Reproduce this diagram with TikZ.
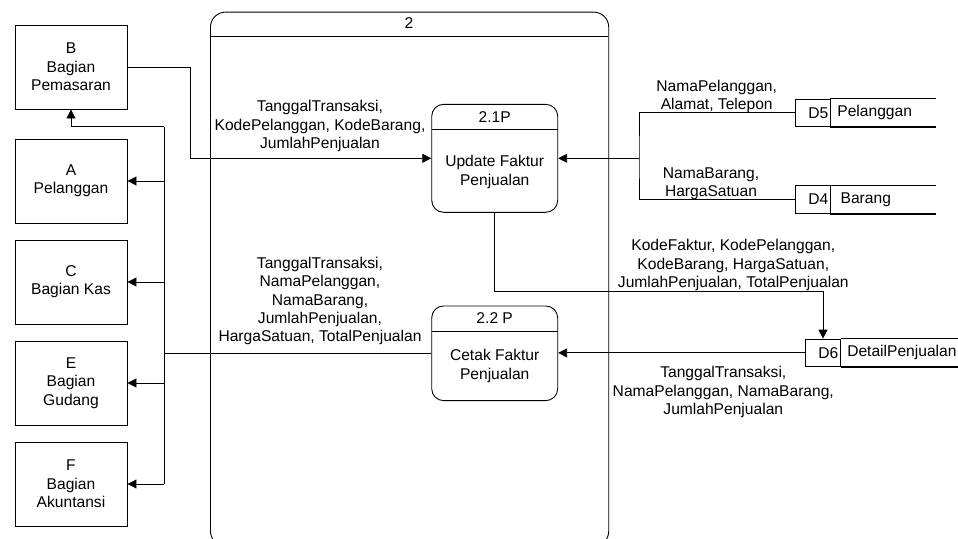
\documentclass[tikz,border=0pt]{standalone}
\usepackage{fontspec}
\setmainfont{Liberation Sans}
\usetikzlibrary{arrows.meta}
\begin{document}
\begin{tikzpicture}[x=1pt,y=-1pt,
  every node/.style={font=\fontsize{15.6}{18.3}\selectfont, inner sep=0pt},
  ext/.style={draw, line width=0.9pt, minimum width=112pt, minimum height=84pt, align=center},
  proc/.style={draw, line width=0.9pt, rounded corners=12pt, minimum width=126pt},
  flow/.style={line width=0.9pt, -{Triangle[length=9pt,width=9pt]}},
  conn/.style={line width=0.9pt},
  lbl/.style={align=center},
  sid/.style={draw, line width=0.8pt, minimum width=34.3pt, minimum height=27.7pt},
  sline/.style={line width=1.5pt}]
\useasboundingbox (0,0) rectangle (958,538);

% enclosing process 2
\node[draw, line width=0.9pt, rounded corners=15pt, minimum width=398.3pt, minimum height=534pt, anchor=north west] (p2) at (210,11.7) {};
\draw[line width=0.9pt] (210,36) -- (608.3,36);
\node (p2t) at (409,23) {2};

% process 2.1P
\node[proc, minimum height=108pt] (p21) at (494.7,158.3) {};
\draw[line width=0.9pt] (431.7,129) -- (557.7,129);
\node (p21h) at (494.7,117) {2.1P};
\node[lbl] (p21b) at (494.7,172) {Update Faktur\\Penjualan};

% process 2.2 P
\node[proc, minimum height=94.7pt] (p22) at (494.7,353.3) {};
\draw[line width=0.9pt] (431.7,331) -- (557.7,331);
\node (p22h) at (494.7,318) {2.2 P};
\node[lbl] (p22b) at (494.7,366) {Cetak Faktur\\Penjualan};

% external entities
\node[ext] (B) at (71,67) {B\\Bagian\\Pemasaran};
\node[ext] (A) at (71,181) {A\\Pelanggan};
\node[ext] (C) at (71,282) {C\\Bagian Kas};
\node[ext] (E) at (71,383) {E\\Bagian\\Gudang};
\node[ext] (F) at (71,484) {F\\Bagian\\Akuntansi};

% data stores
\node[sid] (d5id) at (812.9,112.9) {};
\node[anchor=east] (d5t) at ([xshift=-2pt]d5id.east) {D5};
\draw[sline] (d5id.north east) -- ++(106,0);
\draw[sline] (d5id.south east) -- ++(106,0);
\node[anchor=west] (d5n) at ([xshift=6.7pt]d5id.east) {Pelanggan};

\node[sid] (d4id) at (812.9,199.5) {};
\node[anchor=east] (d4t) at ([xshift=-2pt]d4id.east) {D4};
\draw[sline] (d4id.north east) -- ++(106,0);
\draw[sline] (d4id.south east) -- ++(106,0);
\node[anchor=west] (d4n) at ([xshift=10pt]d4id.east) {Barang};

\node[sid] (d6id) at (823,352.9) {};
\node[anchor=east] (d6t) at ([xshift=-2pt]d6id.east) {D6};
\draw[sline] (d6id.north east) -- ++(130,0);
\draw[sline] (d6id.south east) -- ++(130,0);
\node[anchor=west] (d6n) at ([xshift=6.5pt]d6id.east) {DetailPenjualan};

% left connectors
\coordinate (bus) at (164.3,126.7);
\coordinate (busb) at (164.3,484);
\draw[conn] (busb) -- (bus);
\draw[flow] (bus) -| (B.south);
\draw[flow] (bus |- A.east) -- (A.east);
\draw[flow] (bus |- C.east) -- (C.east);
\draw[flow] (bus |- E.east) -- (E.east);
\draw[flow] (bus |- F.east) -- (F.east);
\draw[conn] (p22.west) -- (p22.west -| bus);
\draw[flow] (B.east) -- ++(63,0) |- (p21.west);

% right connectors
\coordinate (j) at (639,158.3);
\draw[conn] (d5id.west) -| (j) |- (d4id.west);
\draw[flow] (j) -- (p21.east);
\draw[flow] (p21.south) -- ++(0,78.4) -| (d6id.north);
\draw[flow] (d6id.west) -- (d6id.west -| p22.east);

% labels
\node[lbl] (l1) at (320,126) {TanggalTransaksi,\\KodePelanggan, KodeBarang,\\JumlahPenjualan};
\node[lbl] (l2) at (320,301) {TanggalTransaksi,\\NamaPelanggan,\\NamaBarang,\\JumlahPenjualan,\\HargaSatuan, TotalPenjualan};
\node[lbl] (l3) at (716.7,96.5) {NamaPelanggan,\\Alamat, Telepon};
\node[lbl] (l4) at (711,184) {NamaBarang,\\HargaSatuan};
\node[lbl] (l5) at (733.3,265) {KodeFaktur, KodePelanggan,\\KodeBarang, HargaSatuan,\\JumlahPenjualan, TotalPenjualan};
\node[lbl] (l6) at (723.3,392) {TanggalTransaksi,\\NamaPelanggan, NamaBarang,\\JumlahPenjualan};
\end{tikzpicture}
\end{document}
